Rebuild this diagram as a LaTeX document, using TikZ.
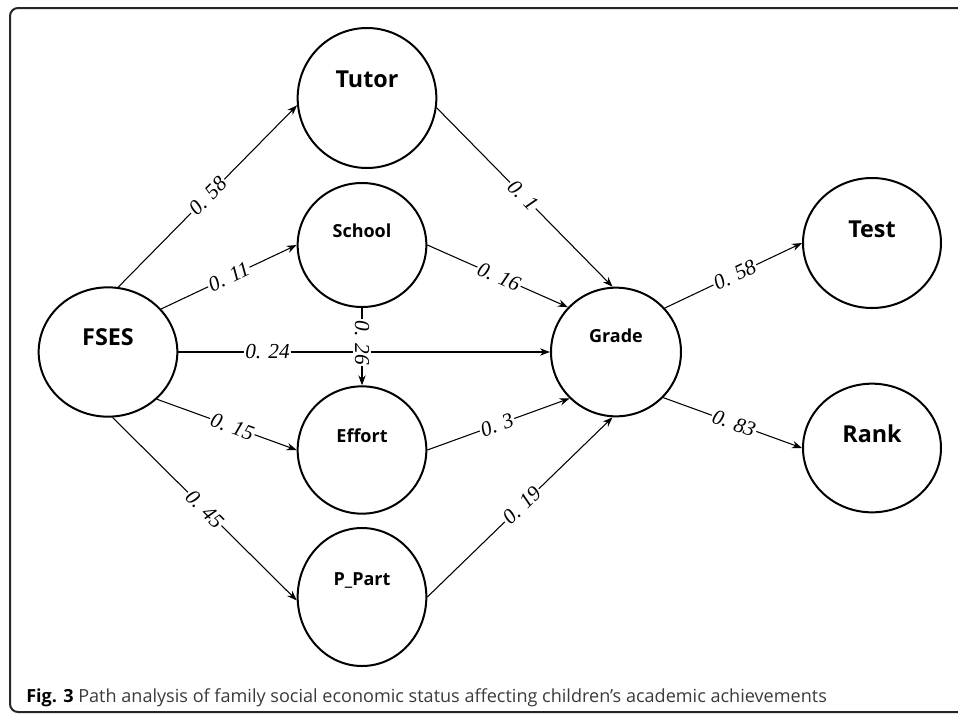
\documentclass[tikz,border=0pt]{standalone}
\usepackage{fontspec}
\setmainfont{Open Sans}
\newfontfamily\coeffont{Liberation Serif}
\usetikzlibrary{positioning,shapes.geometric,arrows.meta}
\definecolor{capgray}{HTML}{3A3A3A}

\begin{document}
\begin{tikzpicture}[x=0.75pt, y=-0.75pt, >={Stealth[length=7.5pt,width=5.5pt]},
  var/.style={draw, ellipse, line width=1.5pt, inner sep=0pt},
  bigname/.style={font=\bfseries\fontsize{17.5}{20}\selectfont},
  smallname/.style={font=\bfseries\fontsize{13.5}{16}\selectfont},
  link/.style={->, line width=0.8pt},
  coef/.style={sloped, fill=white, inner sep=1pt, font=\coeffont\itshape\fontsize{16}{18}\selectfont}]
\useasboundingbox (0,0) rectangle (958,715);
\draw[line width=1.5pt, rounded corners=6pt, draw=black!85] (958,8) -- (10,8) -- (10,712) -- (958,712);
% variables
\node[var, minimum width=104pt, minimum height=97pt, label={[bigname, yshift=11pt]center:FSES}] (fses) at (108,352) {};
\node[var, minimum width=104pt, minimum height=105pt, label={[bigname, yshift=14pt]center:Tutor}] (tutor) at (367,98) {};
\node[var, minimum width=96.5pt, minimum height=93pt, label={[smallname, yshift=11pt]center:School}] (school) at (362,245) {};
\node[var, minimum width=96.5pt, minimum height=95.5pt, label={[smallname, yshift=11pt]center:Effort}] (effort) at (362,450) {};
\node[var, minimum width=96.5pt, minimum height=103.5pt, label={[smallname, yshift=12.5pt]center:P\_Part}] (ppart) at (362,597) {};
\node[var, minimum width=97.5pt, minimum height=96.5pt, label={[smallname, yshift=12pt]center:Grade}] (grade) at (616,352) {};
\node[var, minimum width=103.5pt, minimum height=97.5pt, label={[bigname, yshift=10.5pt]center:Test}] (test) at (872,243) {};
\node[var, minimum width=103.5pt, minimum height=96.5pt, label={[bigname, yshift=11pt]center:Rank}] (rank) at (872,448) {};
% paths
\draw[link] (fses.81) -- (tutor.186) node[coef, pos=.5] {0. 58};
\draw[link] (fses.39) -- (school.west) node[coef, pos=.5] {0. 11};
\draw[link] (fses.east) -- (grade.west) node[coef, pos=.24] {0. 24};
\draw[link] (fses.-44) -- (effort.west) node[coef, pos=.54] {0. 15};
\draw[link] (fses.-86) -- (ppart.183) node[coef, pos=.5] {0. 45};
\draw[link] (school.south) -- (effort.north) node[coef, pos=.45] {0. 26};
\draw[link] (tutor.-8) -- (grade.93) node[coef, pos=.49] {0. 1};
\draw[link] (school.east) -- (grade.137) node[coef, pos=.51] {0. 16};
\draw[link] (effort.east) -- (grade.225) node[coef, pos=.49] {0. 3};
\draw[link] (ppart.east) -- (grade.-93) node[coef, pos=.51] {0. 19};
\draw[link] (grade.42) -- (test.west) node[coef, pos=.51] {0. 58};
\draw[link] (grade.-44) -- (rank.west) node[coef, pos=.51] {0. 83};
\node[anchor=base west, inner sep=0pt, font=\fontsize{13.55}{15}\selectfont, text=capgray] (caption) at (26,702) {\textbf{\color{black}Fig. 3} Path analysis of family social economic status affecting children’s academic achievements};
\end{tikzpicture}
\end{document}
